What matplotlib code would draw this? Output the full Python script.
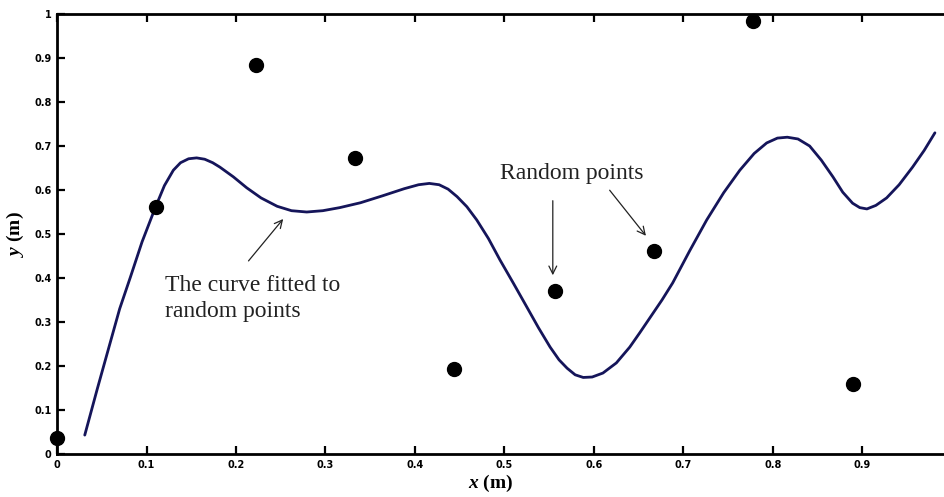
import numpy as np
import matplotlib.pyplot as plt
from matplotlib.ticker import FuncFormatter

plt.rcParams['mathtext.fontset'] = 'custom'
plt.rcParams['mathtext.rm'] = 'Liberation Serif:bold'
plt.rcParams['mathtext.it'] = 'Liberation Serif:italic:bold'

# random sample points
pts_x = [0.0, 0.111, 0.222, 0.333, 0.444, 0.556, 0.667, 0.778, 0.889]
pts_y = [0.036, 0.561, 0.884, 0.673, 0.193, 0.370, 0.461, 0.984, 0.159]

# fitted curve, read along its length
curve_x = [0.031, 0.045, 0.059, 0.070, 0.082, 0.095, 0.110, 0.120, 0.130, 0.138,
           0.147, 0.156, 0.165, 0.174, 0.182, 0.197, 0.212, 0.228, 0.246, 0.262,
           0.279, 0.297, 0.316, 0.339, 0.364, 0.388, 0.404, 0.416, 0.427, 0.437,
           0.447, 0.458, 0.469, 0.482, 0.495, 0.510, 0.525, 0.538, 0.551, 0.561,
           0.570, 0.579, 0.588, 0.598, 0.610, 0.625, 0.640, 0.651, 0.663, 0.676,
           0.688, 0.707, 0.726, 0.745, 0.763, 0.779, 0.793, 0.805, 0.816, 0.828,
           0.841, 0.854, 0.867, 0.878, 0.889, 0.897, 0.905, 0.915, 0.927, 0.941,
           0.956, 0.969, 0.981]
curve_y = [0.043, 0.148, 0.250, 0.330, 0.402, 0.482, 0.561, 0.610, 0.645, 0.662,
           0.671, 0.673, 0.670, 0.662, 0.652, 0.630, 0.605, 0.582, 0.563, 0.553,
           0.550, 0.553, 0.560, 0.571, 0.587, 0.603, 0.612, 0.615, 0.612, 0.602,
           0.585, 0.562, 0.532, 0.490, 0.441, 0.388, 0.334, 0.287, 0.243, 0.214,
           0.195, 0.180, 0.174, 0.175, 0.184, 0.207, 0.243, 0.275, 0.311, 0.350,
           0.389, 0.462, 0.532, 0.594, 0.645, 0.683, 0.707, 0.718, 0.720, 0.716,
           0.700, 0.668, 0.630, 0.595, 0.570, 0.560, 0.557, 0.565, 0.582, 0.612,
           0.652, 0.690, 0.730]

xticks = [0, 0.1, 0.2, 0.3, 0.4, 0.5, 0.6, 0.7, 0.8, 0.9]
yticks = [0, 0.1, 0.2, 0.3, 0.4, 0.5, 0.6, 0.7, 0.8, 0.9, 1.0]

fig = plt.figure(figsize=(9.44, 4.97), dpi=100)
ax = fig.add_axes([0.0604, 0.0865, 0.948, 0.8853])

ax.plot(curve_x, curve_y, color='#15155a', lw=2.0, solid_joinstyle='round',
        solid_capstyle='round')
ax.plot(pts_x, pts_y, 'o', color='black', ms=10, clip_on=False, zorder=5)

ax.set_xlim(0, 1)
ax.set_ylim(0, 1)
ax.set_xticks(xticks)
ax.set_yticks(yticks)
fmt = FuncFormatter(lambda v, p: '%g' % v)
ax.xaxis.set_major_formatter(fmt)
ax.yaxis.set_major_formatter(fmt)
ax.tick_params(direction='in', top=True, right=True, length=6, width=1.6,
               labelsize=7, pad=4)
for lab in ax.get_xticklabels() + ax.get_yticklabels():
    lab.set_fontweight('bold')
for s in ax.spines.values():
    s.set_linewidth(2)

ax.text(0.4843, -0.068, r'$x$ (m)', transform=ax.transAxes, ha='center',
        va='center', family='Liberation Serif', fontsize=14, fontweight='bold')
ax.text(-0.047, 0.5, r'$y$ (m)', transform=ax.transAxes, rotation=90,
        ha='center', va='center', family='Liberation Serif', fontsize=14,
        fontweight='bold')

serif = dict(family='Liberation Serif', fontsize=17, color='#222222')
arrow = dict(arrowstyle='->', color='#222222', lw=0.9, mutation_scale=14)

ax.text(0.1207, 0.3534, 'The curve fitted to\nrandom points', ha='left',
        va='center', linespacing=1.32, **serif)
ax.annotate('', xy=(0.2547, 0.539), xytext=(0.212, 0.434), arrowprops=arrow)

ax.text(0.575, 0.6386, 'Random points', ha='center', va='center', **serif)
ax.annotate('', xy=(0.554, 0.400), xytext=(0.554, 0.582), arrowprops=arrow)
ax.annotate('', xy=(0.660, 0.491), xytext=(0.6156, 0.6045), arrowprops=arrow)

fig.savefig('out.png', dpi=100)
